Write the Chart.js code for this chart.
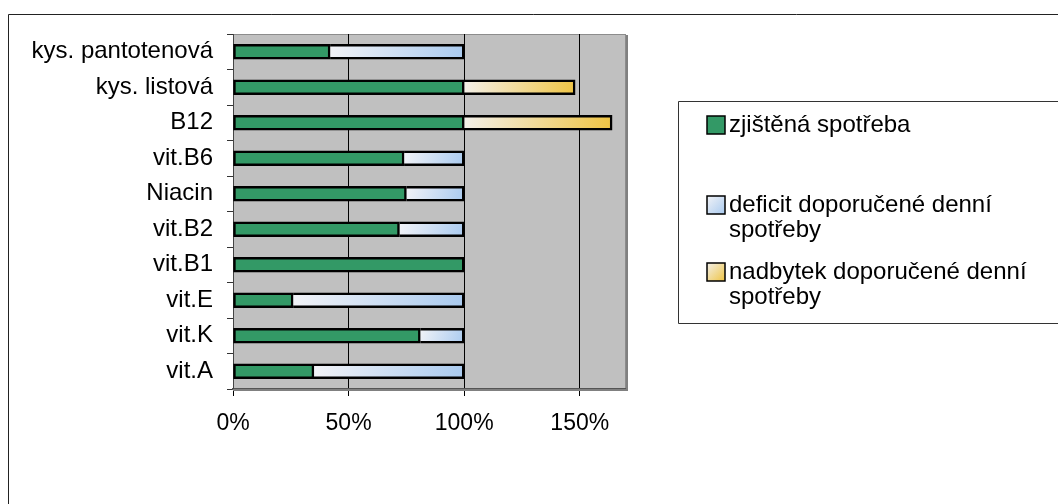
<!DOCTYPE html>
<html>
<head>
<meta charset="utf-8">
<script src="https://cdn.jsdelivr.net/npm/chart.js@4.4.0/dist/chart.umd.min.js"></script>
<style>
    html, body { margin: 0; padding: 0; background: #fff; }
    #wrap { width: 1058px; height: 504px; }
</style>
</head>
<body>
<div id="wrap"><canvas id="vitaminy"></canvas></div>
<script>
// hodnoty v % doporučené denní dávky
const kategorie = ['kys. pantotenová', 'kys. listová', 'B12', 'vit.B6', 'Niacin', 'vit.B2', 'vit.B1', 'vit.E', 'vit.K', 'vit.A']
const zjistena = [42, 100, 100, 74, 75, 72, 100, 26, 81, 35]
const deficit = [58, null, null, 26, 25, 28, null, 74, 19, 65]
const nadbytek = [null, 48, 64, null, null, null, null, null, null, null]
const osaX = [0, 50, 100, 150]

const FONT = "'Liberation Sans', Arial, sans-serif"

// gradient for one bar, from its start to its end on the x scale
function prechod(c1, c2, zacatky) {
    return ctx => {
        const chart = ctx.chart
        const sx = chart.scales.x
        const sy = chart.scales.y
        if (ctx.type !== 'data' || !sx || !sy || ctx.raw == null) return c2
        const i = ctx.dataIndex
        const x0 = sx.getPixelForValue(zacatky[i])
        const x1 = sx.getPixelForValue(zacatky[i] + ctx.raw)
        const yc = sy.getPixelForValue(i)
        if (!isFinite(x0) || !isFinite(x1) || !isFinite(yc)) return c2
        const g = chart.ctx.createLinearGradient(x0, yc - 8, x1, yc + 8)
        g.addColorStop(0, c1)
        g.addColorStop(1, c2)
        return g
    }
}

const barvy = [
    ['#339966', '#339966'],
    ['#f2f3f7', '#a9caef'],
    ['#f3f0ea', '#efc443']
]

// frame, gray plot area and its shadow
const pozadi = {
    id: 'pozadi',
    beforeDraw(chart) {
        const { ctx, chartArea: a } = chart
        ctx.save()
        ctx.fillStyle = '#fff'
        ctx.fillRect(0, 0, chart.width, chart.height)
        ctx.strokeStyle = '#222'
        ctx.lineWidth = 1
        ctx.beginPath()
        ctx.moveTo(8.5, chart.height + 2)
        ctx.lineTo(8.5, 14.5)
        ctx.lineTo(chart.width + 2, 14.5)
        ctx.stroke()
        ctx.fillStyle = '#c0c0c0'
        ctx.fillRect(a.left, a.top, a.right - a.left, a.bottom - a.top)
        ctx.strokeStyle = '#8c8c8c'
        ctx.strokeRect(a.left + 0.5, a.top + 0.5, a.right - a.left - 1, a.bottom - a.top - 1)
        ctx.restore()
    },
    afterDatasetsDraw(chart) {
        const { ctx, chartArea: a } = chart
        ctx.save()
        ctx.strokeStyle = '#808080'
        ctx.lineWidth = 2
        ctx.beginPath()
        ctx.moveTo(a.right + 1, a.top + 1)
        ctx.lineTo(a.right + 1, a.bottom + 1)
        ctx.lineTo(a.left, a.bottom + 1)
        ctx.stroke()
        ctx.restore()
    }
}

// legend in a box on the right, long labels wrapped
const legenda = {
    id: 'legenda',
    afterDraw(chart) {
        const { ctx } = chart
        const radkyY = [125, 205, 272]
        ctx.save()
        ctx.strokeStyle = '#333'
        ctx.lineWidth = 1
        ctx.beginPath()
        ctx.moveTo(chart.width + 2, 101.5)
        ctx.lineTo(678.5, 101.5)
        ctx.lineTo(678.5, 323.5)
        ctx.lineTo(chart.width + 2, 323.5)
        ctx.stroke()
        ctx.font = '24px ' + FONT
        ctx.textBaseline = 'middle'
        chart.data.datasets.forEach((ds, k) => {
            const y = radkyY[k]
            const g = ctx.createLinearGradient(707, y - 9, 725, y + 9)
            g.addColorStop(0, barvy[k][0])
            g.addColorStop(1, barvy[k][1])
            ctx.fillStyle = g
            ctx.fillRect(707, y - 9, 18, 18)
            ctx.strokeStyle = '#000'
            ctx.lineWidth = 1.5
            ctx.strokeRect(707, y - 9, 18, 18)
            // wrap text
            const slova = ds.label.split(' ')
            const radky = []
            let r = ''
            for (const s of slova) {
                const t = r ? r + ' ' + s : s
                if (ctx.measureText(t).width > 310 && r) {
                    radky.push(r)
                    r = s
                } else {
                    r = t
                }
            }
            radky.push(r)
            ctx.fillStyle = '#000'
            radky.forEach((t, j) => ctx.fillText(t, 729, y + j * 25))
        })
        ctx.restore()
    }
}

const ds = (label, data, k, skip) => ({
    label,
    data,
    backgroundColor: k === 0 ? barvy[0][0] : prechod(barvy[k][0], barvy[k][1], zjistena),
    borderColor: '#000',
    borderWidth: 2.5,
    borderSkipped: skip,
    barThickness: 15
})

const options = {
    type: 'bar',
    data: {
        labels: kategorie,
        datasets: [
            ds('zjištěná spotřeba', zjistena, 0, false),
            ds('deficit doporučené denní spotřeby', deficit, 1, 'left'),
            ds('nadbytek doporučené denní spotřeby', nadbytek, 2, 'left')
        ]
    },
    options: {
        indexAxis: 'y',
        responsive: true,
        maintainAspectRatio: false,
        animation: false,
        layout: { padding: { top: 34, left: 0, right: 432, bottom: 0 } },
        plugins: {
            legend: { display: false },
            tooltip: { enabled: false }
        },
        scales: {
            x: {
                stacked: true,
                min: 0,
                max: 170,
                afterBuildTicks: s => { s.ticks = osaX.map(v => ({ value: v })) },
                afterFit: s => { s.height = 115 },
                ticks: {
                    callback: v => v + '%',
                    color: '#000',
                    font: { family: FONT, size: 23 },
                    padding: 14
                },
                grid: {
                    color: c => c.tick && c.tick.value === 0 ? 'rgba(0,0,0,0)' : '#000',
                    lineWidth: 1,
                    tickLength: 7,
                    tickColor: '#000'
                },
                border: { color: '#555', width: 2 }
            },
            y: {
                stacked: true,
                afterFit: s => { s.width = 233 },
                ticks: {
                    color: '#000',
                    font: { family: FONT, size: 24 },
                    padding: 14
                },
                grid: {
                    offset: true,
                    drawOnChartArea: false,
                    tickLength: 6,
                    tickColor: '#333'
                },
                border: { color: '#444', width: 1 }
            }
        }
    },
    plugins: [pozadi, legenda]
}

const chart = new Chart(document.getElementById('vitaminy'), options)
</script>
</body>
</html>
